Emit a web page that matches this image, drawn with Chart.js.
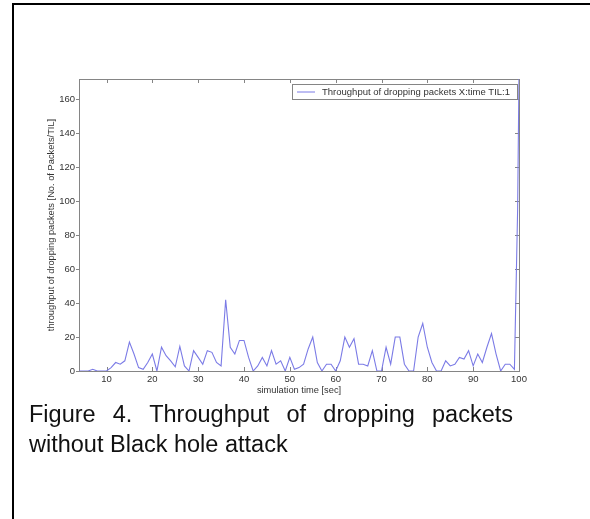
<!DOCTYPE html>
<html>
<head>
<meta charset="utf-8">
<script src="https://cdn.jsdelivr.net/npm/chart.js@4.4.0/dist/chart.umd.min.js"></script>
<style>
  body {
    margin: 0;
    width: 590px;
    height: 519px;
    overflow: hidden;
    position: relative;
    background: #fff;
    font-family: "Liberation Sans", Arial, sans-serif;
  }
  #frame {
    position: absolute;
    left: 12px;
    top: 3px;
    width: 640px;
    height: 600px;
    border-left: 2px solid #000;
    border-top: 2px solid #000;
  }
  #chart-box {
    position: absolute;
    left: 30px;
    top: 70px;
    width: 500px;
    height: 330px;
  }
  #caption {
    position: absolute;
    left: 29px;
    top: 399px;
    width: 484px;
    font-size: 23.5px;
    line-height: 30px;
    text-align: justify;
    color: #111;
  }
</style>
</head>
<body>
<div id="frame"></div>
<div id="chart-box"><canvas id="dropChart" width="500" height="330"></canvas></div>
<div id="caption">Figure 4. Throughput of dropping packets without Black hole attack</div>

<script>
// values (time in sec, dropped packets per TIL)
const timeSec = [4, 5, 6, 7, 8, 9, 10, 11, 12, 13, 14, 15, 16, 17, 18, 19, 20,
    21, 22, 23, 24, 25, 26, 27, 28, 29, 30, 31, 32, 33, 34, 35, 36, 37, 38, 39, 40,
    41, 42, 43, 44, 45, 46, 47, 48, 49, 50, 51, 52, 53, 54, 55, 56, 57, 58, 59, 60,
    61, 62, 63, 64, 65, 66, 67, 68, 69, 70, 71, 72, 73, 74, 75, 76, 77, 78, 79, 80,
    81, 82, 83, 84, 85, 86, 87, 88, 89, 90, 91, 92, 93, 94, 95, 96, 97, 98, 99, 99.7, 100];
const droppedPackets = [0, 0, 0, 1, 0, 0, 0, 2, 5, 4, 6, 17, 10, 2, 1, 5, 10,
    0, 14, 9, 6, 2.5, 14.5, 3, 0, 12, 8, 4, 12, 11, 5, 3, 42, 14, 10, 18, 18,
    8, 0, 3, 8, 3, 12, 4, 6, 0, 8, 1, 2, 4, 13, 20, 5, 0, 4, 4, 0,
    6, 20, 14, 19, 4, 4, 3, 12, 0, 0, 14, 4, 20, 20, 4, 0, 0, 20, 28, 14,
    5, 0, 0, 6, 3, 4, 8, 7, 12, 3, 10, 5, 14, 22, 10, 0, 4, 4, 1, 95, 175];

const xTicks = [10, 20, 30, 40, 50, 60, 70, 80, 90, 100];
const yTicks = [0, 20, 40, 60, 80, 100, 120, 140, 160];

const seriesLabel = "Throughput of dropping packets X:time TIL:1";
const xTitle = "simulation time [sec]";
const yTitle = "throughput of dropping packets [No. of Packets/TIL]";

const axisColor = "#858585";
const textColor = "#333";
const lineColor = "#7b7be6";
const fontFamily = "'Liberation Sans', Arial, sans-serif";

// box round the plot with MATLAB-like tick marks
const boxTicks = {
    id: "boxTicks",
    beforeDatasetsDraw(chart) {
        const { ctx, chartArea: a, scales: { x, y } } = chart;
        ctx.save();
        ctx.strokeStyle = axisColor;
        ctx.lineWidth = 1;
        ctx.strokeRect(a.left + 0.5, a.top + 0.5, a.width, a.height);
        ctx.beginPath();
        x.ticks.forEach(t => {
            const px = Math.round(x.getPixelForValue(t.value)) + 0.5;
            ctx.moveTo(px, a.bottom);
            ctx.lineTo(px, a.bottom - 4);
            ctx.moveTo(px, a.top);
            ctx.lineTo(px, a.top + 4);
        });
        y.ticks.forEach(t => {
            const py = Math.round(y.getPixelForValue(t.value)) + 0.5;
            ctx.moveTo(a.left - 3, py);
            ctx.lineTo(a.left, py);
            ctx.moveTo(a.right, py);
            ctx.lineTo(a.right - 4, py);
        });
        ctx.stroke();
        ctx.restore();
    }
};

// legend box in the top right corner of the plot
const cornerLegend = {
    id: "cornerLegend",
    afterDatasetsDraw(chart) {
        const { ctx, chartArea: a } = chart;
        const ds = chart.data.datasets[0];
        ctx.save();
        ctx.font = "9.5px " + fontFamily;
        const textW = ctx.measureText(ds.label).width;
        const boxW = 30 + textW + 7;
        const boxH = 15;
        const right = a.right - 2;
        const left = right - boxW;
        const top = a.top + 5;
        ctx.fillStyle = "#fff";
        ctx.fillRect(left, top, boxW, boxH);
        ctx.strokeStyle = axisColor;
        ctx.lineWidth = 1;
        ctx.strokeRect(Math.round(left) + 0.5, top + 0.5, Math.round(boxW), boxH);
        const mid = top + boxH / 2 + 0.5;
        ctx.strokeStyle = ds.borderColor;
        ctx.beginPath();
        ctx.moveTo(left + 5, mid);
        ctx.lineTo(left + 23, mid);
        ctx.stroke();
        ctx.fillStyle = textColor;
        ctx.textBaseline = "middle";
        ctx.fillText(ds.label, left + 30, mid);
        ctx.restore();
    }
};

new Chart(document.getElementById("dropChart"), {
    type: "line",
    data: {
        datasets: [{
            label: seriesLabel,
            data: timeSec.map((t, i) => ({ x: t, y: droppedPackets[i] })),
            borderColor: lineColor,
            borderWidth: 1.1,
            pointRadius: 0,
            tension: 0,
            fill: false
        }]
    },
    options: {
        responsive: false,
        animation: false,
        layout: { padding: { top: 9, right: 11, left: 0, bottom: 0 } },
        plugins: {
            legend: { display: false },
            tooltip: { enabled: false }
        },
        scales: {
            x: {
                type: "linear",
                min: 4,
                max: 100,
                afterBuildTicks: s => { s.ticks = xTicks.map(v => ({ value: v })); },
                afterFit: s => { s.height = 29; s.paddingLeft = 0; s.paddingRight = 0; },
                grid: { display: false, drawTicks: false },
                border: { display: false },
                ticks: {
                    padding: 3,
                    color: textColor,
                    maxRotation: 0,
                    autoSkip: false,
                    font: { family: fontFamily, size: 9.5 }
                },
                title: {
                    display: true,
                    text: xTitle,
                    color: textColor,
                    padding: { top: 0, bottom: 4.4 },
                    font: { family: fontFamily, size: 9.3 }
                }
            },
            y: {
                min: 0,
                max: 172,
                afterBuildTicks: s => { s.ticks = yTicks.map(v => ({ value: v })); },
                afterFit: s => { s.width = 49; s.paddingTop = 0; s.paddingBottom = 0; },
                grid: { display: false, drawTicks: false },
                border: { display: false },
                ticks: {
                    padding: 4,
                    color: textColor,
                    autoSkip: false,
                    font: { family: fontFamily, size: 9.5 }
                },
                title: {
                    display: true,
                    text: yTitle,
                    color: textColor,
                    padding: { top: 16, bottom: 0 },
                    font: { family: fontFamily, size: 9.3 }
                }
            }
        }
    },
    plugins: [boxTicks, cornerLegend]
});
</script>
</body>
</html>
